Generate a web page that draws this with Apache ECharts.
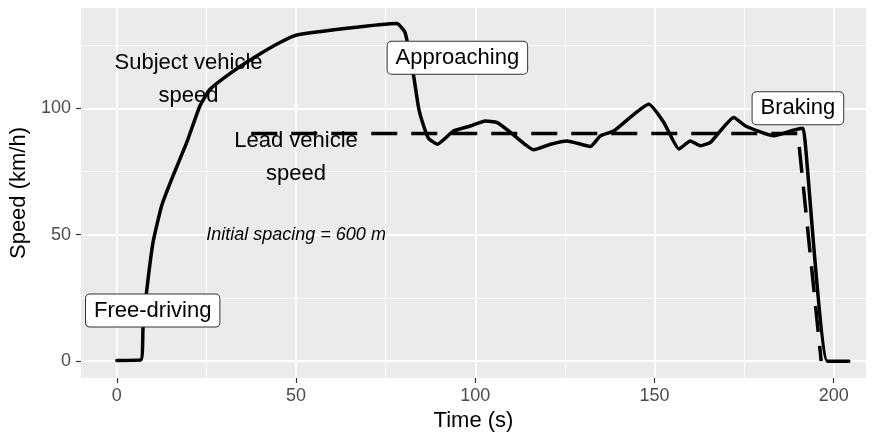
<!DOCTYPE html>
<html><head><meta charset="utf-8">
<script src="https://cdn.jsdelivr.net/npm/echarts@6/dist/echarts.min.js"></script>
<style>html,body{margin:0;padding:0;background:#fff}#c{width:874px;height:437px}</style>
</head><body><div id="c"></div>
<script>
const subjectTime = [0, 6.7, 7.3, 8.3, 10.1, 12.5, 15.3, 19.5, 23.2, 26, 32.5, 39, 45.5, 50.2, 78.1, 80.4, 82.8, 84.2, 85.6, 87, 89.5, 91.5, 93.9, 98.6, 102.8, 106, 109.8, 116.3, 121, 125.6, 132.1, 134.9, 138.6, 148.4, 152.6, 156.8, 160, 162.8, 165.6, 172.1, 175.4, 183.3, 190.8, 191.5, 192, 198.2, 204.2];
const subjectSpeed = [0.3, 0.5, 13, 27.5, 47, 61.5, 72, 86.5, 101, 107.5, 114.7, 120.7, 126, 129, 133.5, 130, 112.8, 100, 93, 88, 85.8, 88, 91, 93, 95, 94.4, 90.5, 83.6, 85.8, 87.1, 84.9, 89.1, 91, 101.6, 94.4, 83.9, 87.1, 85.2, 86.5, 96.4, 93, 89.1, 92, 92, 87, 0, 0];
const leadTime = [37.5, 190, 196.5];
const leadSpeed = [90, 90, 0];
const xTicks = [0, 50, 100, 150, 200];
const xMinor = [25, 75, 125, 175];
const yTicks = [0, 50, 100];
const yMinor = [25, 75, 125];
const textNotes = ['Subject vehicle\nspeed', 'Lead vehicle\nspeed'];
const textNoteX = [20, 50];
const textNoteY = [111.5, 80.5];
const spacingNote = ['Initial spacing = 600 m'];
const spacingX = [50];
const spacingY = [50];
const phaseLabels = ['Free-driving', 'Approaching', 'Braking'];
const phaseX = [10, 95, 190];
const phaseY = [20, 120, 100];

const FONT = '"Liberation Sans", Arial, sans-serif';
const chart = echarts.init(document.getElementById('c'), null, {renderer: 'canvas'});
const zip = (a, b) => a.map((v, i) => [v, b[i]]);
const notes = (names, xs, ys) => names.map((n, i) => ({name: n, value: [xs[i], ys[i]]}));

const majorX = {
  type: 'value', min: -10, max: 209, gridIndex: 0, position: 'bottom',
  axisLine: {show: false, onZero: false},
  axisTick: {show: true, customValues: xTicks, length: 5, lineStyle: {color: '#333', width: 1.2}},
  axisLabel: {show: true, customValues: xTicks, color: '#4D4D4D', fontSize: 18, margin: 9, fontFamily: FONT},
  splitLine: {show: true, lineStyle: {color: '#fff', width: 1.8}},
  name: 'Time (s)', nameLocation: 'middle', nameGap: 32,
  nameTextStyle: {fontSize: 22, color: '#000', fontFamily: FONT}
};
const minorX = {
  type: 'value', min: -10, max: 209, gridIndex: 0, position: 'top',
  axisLine: {show: false, onZero: false},
  axisTick: {show: false, customValues: xMinor},
  axisLabel: {show: false, customValues: xMinor},
  splitLine: {show: true, lineStyle: {color: '#fff', width: 0.9}}
};
const majorY = {
  type: 'value', min: -6.65, max: 139.65, gridIndex: 0, position: 'left',
  axisLine: {show: false, onZero: false},
  axisTick: {show: true, customValues: yTicks, length: 5, lineStyle: {color: '#333', width: 1.2}},
  axisLabel: {show: true, customValues: yTicks, color: '#4D4D4D', fontSize: 18, margin: 10, fontFamily: FONT},
  splitLine: {show: true, lineStyle: {color: '#fff', width: 1.8}},
  name: 'Speed (km/h)', nameLocation: 'middle', nameGap: 50, nameRotate: 90,
  nameTextStyle: {fontSize: 22, color: '#000', fontFamily: FONT}
};
const minorY = {
  type: 'value', min: -6.65, max: 139.65, gridIndex: 0, position: 'right',
  axisLine: {show: false, onZero: false},
  axisTick: {show: false, customValues: yMinor},
  axisLabel: {show: false, customValues: yMinor},
  splitLine: {show: true, lineStyle: {color: '#fff', width: 0.9}}
};
const noteLabel = {show: true, position: 'inside', formatter: p => p.name, color: '#000', fontFamily: FONT,
  textBorderWidth: 0, textShadowBlur: 0};
const noteItem = {color: 'rgba(0,0,0,0)', opacity: 1};

chart.setOption({
  animation: false,
  backgroundColor: '#fff',
  grid: {left: 81, top: 8, right: 8, bottom: 58, show: true, backgroundColor: '#EBEBEB', borderWidth: 0},
  xAxis: [minorX, majorX],
  yAxis: [minorY, majorY],
  series: [
    {type: 'line', xAxisIndex: 1, yAxisIndex: 1, data: zip(leadTime, leadSpeed), showSymbol: false, symbol: 'none',
     lineStyle: {color: '#000', width: 3.5, type: [26, 14], cap: 'butt'}, z: 3},
    {type: 'line', xAxisIndex: 1, yAxisIndex: 1, data: zip(subjectTime, subjectSpeed), showSymbol: false, symbol: 'none',
     smooth: 0.15,
     lineStyle: {color: '#000', width: 3.5, join: 'round', cap: 'round'}, z: 4},
    {type: 'scatter', xAxisIndex: 1, yAxisIndex: 1, data: notes(textNotes, textNoteX, textNoteY), symbolSize: 1,
     itemStyle: noteItem, silent: true, z: 5,
     label: Object.assign({}, noteLabel, {fontSize: 22, lineHeight: 33, align: 'center'})},
    {type: 'scatter', xAxisIndex: 1, yAxisIndex: 1, data: notes(spacingNote, spacingX, spacingY), symbolSize: 1,
     itemStyle: noteItem, silent: true, z: 5,
     label: Object.assign({}, noteLabel, {fontSize: 18, fontStyle: 'italic'})},
    {type: 'scatter', xAxisIndex: 1, yAxisIndex: 1, data: notes(phaseLabels, phaseX, phaseY), symbolSize: 1,
     itemStyle: noteItem, silent: true, z: 6,
     label: Object.assign({}, noteLabel, {fontSize: 22, lineHeight: 24,
       backgroundColor: '#fff', borderColor: '#333', borderWidth: 1, borderRadius: 4, padding: [4, 8, 4, 8]})}
  ]
});
</script></body></html>
